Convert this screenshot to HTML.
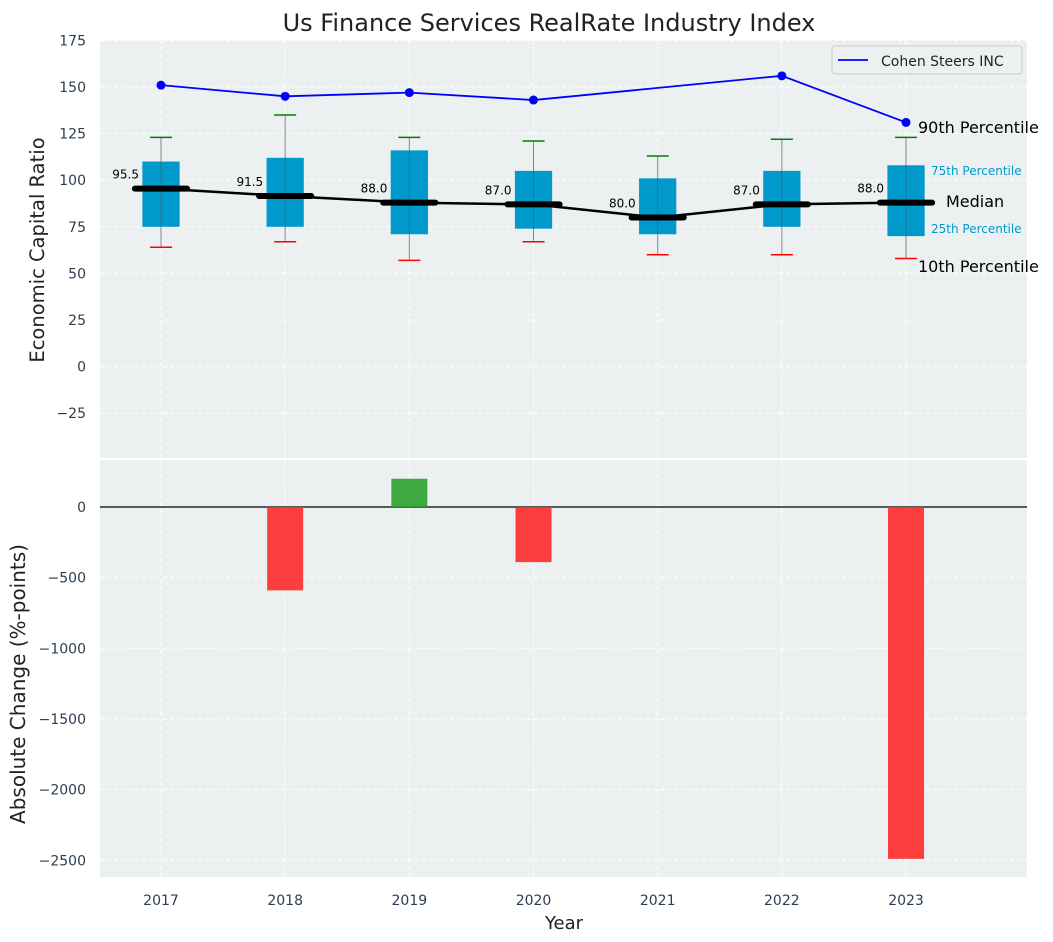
<!DOCTYPE html>
<html><head><meta charset="utf-8"><style>
body{margin:0;background:#fff}
svg{display:block;font-family:"DejaVu Sans","Liberation Sans",sans-serif}
</style></head><body>
<svg id="c" width="1053" height="942"></svg>
<script>
const years=[2017,2018,2019,2020,2021,2022,2023];
const q1=[75,75,71,74,71,75,70];
const q3=[110,112,116,105,101,105,108];
const med=[95.5,91.5,88,87,80,87,88];
const p10=[64,67,57,67,60,60,58];
const p90=[123,135,123,121,113,122,123];
const cohenYears=[2017,2018,2019,2020,2022,2023];
const cohen=[151,145,147,143,156,131];
const changeYears=[2017,2018,2019,2020,2021,2022,2023];
const change=[0,-590,200,-390,0,0,-2490];
const topTicks=[175,150,125,100,75,50,25,0,-25];
const botTicks=[0,-500,-1000,-1500,-2000,-2500];

const NS="http://www.w3.org/2000/svg";
const svg=document.getElementById('c');
function el(t,a,txt){const e=document.createElementNS(NS,t);for(const k in a)e.setAttribute(k,a[k]);if(txt!==undefined)e.textContent=txt;svg.appendChild(e);return e;}
const L=100,R=1027;
const x=v=>161+(v-2017)*124.17;
const yT=v=>366.6-1.864*v;
const yB=v=>507-0.1413*v;

let e;
e=el('rect',{x:L,y:40,width:R-L,height:418,fill:'#ecf0f1'});

e=el('rect',{x:L,y:460,width:R-L,height:417,fill:'#ecf0f1'});


years.forEach(v=>{
 el('line',{x1:x(v),x2:x(v),y1:40,y2:458,stroke:'#fff','stroke-dasharray':'4,3'});
 el('line',{x1:x(v),x2:x(v),y1:460,y2:877,stroke:'#fff','stroke-dasharray':'4,3'});
 e=el('text',{x:x(v),y:905,'text-anchor':'middle','font-size':14,fill:'#2c3e50'},v);
 
});
topTicks.forEach(v=>{
 el('line',{x1:L,x2:R,y1:yT(v),y2:yT(v),stroke:'#fff','stroke-dasharray':'4,3'});
 e=el('text',{x:86,y:yT(v)+5,'text-anchor':'end','font-size':14,fill:'#2c3e50'},v<0?'\u2212'+(-v):v);
 
});
botTicks.forEach(v=>{
 el('line',{x1:L,x2:R,y1:yB(v),y2:yB(v),stroke:'#fff','stroke-dasharray':'4,3'});
 e=el('text',{x:86,y:yB(v)+5,'text-anchor':'end','font-size':14,fill:'#2c3e50'},v<0?'\u2212'+(-v):v);
 
});

const bw=0.3*124.17, mw=0.42*124.17, cw=22;
years.forEach((v,i)=>{
 const cx=x(v);
 el('line',{x1:cx,x2:cx,y1:yT(p90[i]),y2:yT(p10[i]),stroke:'#888','stroke-width':1});
 e=el('rect',{x:cx-bw/2,y:yT(q3[i]),width:bw,height:yT(q1[i])-yT(q3[i]),fill:'#0099cc'});
 
 el('line',{x1:cx,x2:cx,y1:yT(q3[i]),y2:yT(q1[i]),stroke:'#555','stroke-width':1,opacity:0.6});
 el('line',{x1:cx-cw/2,x2:cx+cw/2,y1:yT(p90[i]),y2:yT(p90[i]),stroke:'green','stroke-width':1.5});
 el('line',{x1:cx-cw/2,x2:cx+cw/2,y1:yT(p10[i]),y2:yT(p10[i]),stroke:'red','stroke-width':1.5});
});
e=el('polyline',{points:years.map((v,i)=>x(v)+','+yT(med[i])).join(' '),fill:'none',stroke:'#000','stroke-width':2.5});

years.forEach((v,i)=>{
 const cx=x(v);
 el('line',{x1:cx-mw/2,x2:cx+mw/2,y1:yT(med[i]),y2:yT(med[i]),stroke:'#000','stroke-width':6,'stroke-linecap':'round'});
 e=el('text',{x:cx-22,y:yT(med[i])-10,'text-anchor':'end','font-size':12,fill:'#000'},med[i].toFixed(1));
 
});
e=el('polyline',{points:cohenYears.map((v,i)=>x(v)+','+yT(cohen[i])).join(' '),fill:'none',stroke:'blue','stroke-width':1.8});

cohenYears.forEach((v,i)=>{
 e=el('circle',{cx:x(v),cy:yT(cohen[i]),r:4.5,fill:'blue'});
 
});
[['90th Percentile',918,133,16,'#000'],['75th Percentile',931,175,12,'#0099cc'],['Median',946,207,16,'#000'],['25th Percentile',931,233,12,'#0099cc'],['10th Percentile',918,272,16,'#000']].forEach(a=>{
 e=el('text',{x:a[1],y:a[2],'font-size':a[3],fill:a[4]},a[0]);
 
});
e=el('rect',{x:832,y:46,width:190,height:28,rx:3,fill:'#ecf0f1',stroke:'#ccc'});

el('line',{x1:838,x2:868,y1:60,y2:60,stroke:'blue','stroke-width':1.8});
e=el('text',{x:881,y:66,'font-size':14,fill:'#222'},'Cohen Steers INC');


const barW=0.29*124.17;
el('line',{x1:L,x2:R,y1:yB(0),y2:yB(0),stroke:'#000','stroke-width':1.3});
changeYears.forEach((v,i)=>{
 if(change[i]===0)return;
 const y0=yB(0),y1=yB(change[i]);
 e=el('rect',{x:x(v)-barW/2,y:Math.min(y0,y1),width:barW,height:Math.abs(y1-y0),fill:change[i]>0?'#2ca02c':'#ff2a2a',opacity:0.9});
 
});

e=el('text',{x:549,y:31,'text-anchor':'middle','font-size':24,fill:'#222'},'Us Finance Services RealRate Industry Index');

e=el('text',{x:564,y:929,'text-anchor':'middle','font-size':18,fill:'#222'},'Year');

e=el('text',{x:0,y:0,'text-anchor':'middle','font-size':19.5,fill:'#222',transform:'translate(44,250) rotate(-90)'},'Economic Capital Ratio');

e=el('text',{x:0,y:0,'text-anchor':'middle','font-size':20,fill:'#222',transform:'translate(25,684) rotate(-90)'},'Absolute Change (%-points)');

</script>
</body></html>
